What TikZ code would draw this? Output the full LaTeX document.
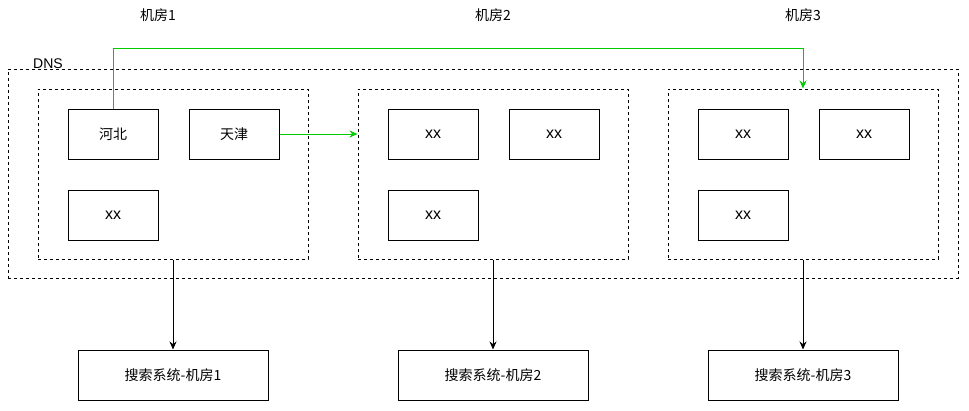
\documentclass[tikz,border=0pt]{standalone}
\usepackage{fontspec}
\setmainfont{Liberation Sans}
\newfontfamily\cjk{Noto Sans CJK SC}
\usetikzlibrary{arrows.meta, positioning}
\definecolor{linkgreen}{RGB}{0, 204, 0}

\begin{document}
\begin{tikzpicture}[
			x=1pt, y=-1pt,
			cell/.style={draw, line width=1pt, minimum width=90pt, minimum height=50pt, inner sep=0pt, font=\fontsize{16}{18}\selectfont},
			room/.style={draw, line width=1pt, dash pattern=on 3pt off 3pt, minimum width=270pt, minimum height=170pt, inner sep=0pt},
			search/.style={cell, minimum width=190pt},
			cjktext/.style={font=\cjk\fontsize{14}{16}\selectfont},
			title/.style={cjktext, inner sep=0pt},
			downarrow/.style={-{Stealth[length=8pt, width=7pt]}, line width=1pt},
			greenarrow/.style={-{Stealth[length=8pt, width=7pt]}, line width=1pt, linkgreen}
		]
		\useasboundingbox (0,0) rectangle (969,410);
		% outer DNS frame
		\node[room, minimum width=950pt, minimum height=209pt] (dns) at (483,173.5) {};
		\node[inner sep=0pt, font=\fontsize{14}{16}\selectfont] (dnslabel) at (48,64) {DNS};
		% machine rooms
		\node[room] (room1) at (173,174) {};
		\node[room] (room2) at (493,174) {};
		\node[room] (room3) at (803,174) {};
		\node[title] (title1) at (158,15) {机房1};
		\node[title] (title2) at (493,15) {机房2};
		\node[title] (title3) at (803,15) {机房3};
		% cells in room 1
		\node[cell, cjktext, below right=20pt and 30pt of room1.north west, anchor=north west] (hebei) {河北};
		\node[cell, cjktext, right=30pt of hebei] (tianjin) {天津};
		\node[cell, below=30pt of hebei] (xxa) {xx};
		% cells in room 2
		\node[cell, below right=20pt and 30pt of room2.north west, anchor=north west] (xxb) {xx};
		\node[cell, right=30pt of xxb] (xxc) {xx};
		\node[cell, below=30pt of xxb] (xxd) {xx};
		% cells in room 3
		\node[cell, below right=20pt and 30pt of room3.north west, anchor=north west] (xxe) {xx};
		\node[cell, right=30pt of xxe] (xxf) {xx};
		\node[cell, below=30pt of xxe] (xxg) {xx};
		% search systems
		\node[search, cjktext, below=90pt of room1] (search1) {搜索系统-机房1};
		\node[search, cjktext, below=90pt of room2] (search2) {搜索系统-机房2};
		\node[search, cjktext, below=90pt of room3] (search3) {搜索系统-机房3};
		% connectors
		\draw[downarrow] (room1) -- (search1);
		\draw[downarrow] (room2) -- (search2);
		\draw[downarrow] (room3) -- (search3);
		\draw[greenarrow] (tianjin) -- (tianjin.east -| room2.west);
		\coordinate (turn) at (803,48);
		\draw[greenarrow] (hebei.north) |- (turn) -- (turn |- room3.north);
	\end{tikzpicture}
\end{document}
